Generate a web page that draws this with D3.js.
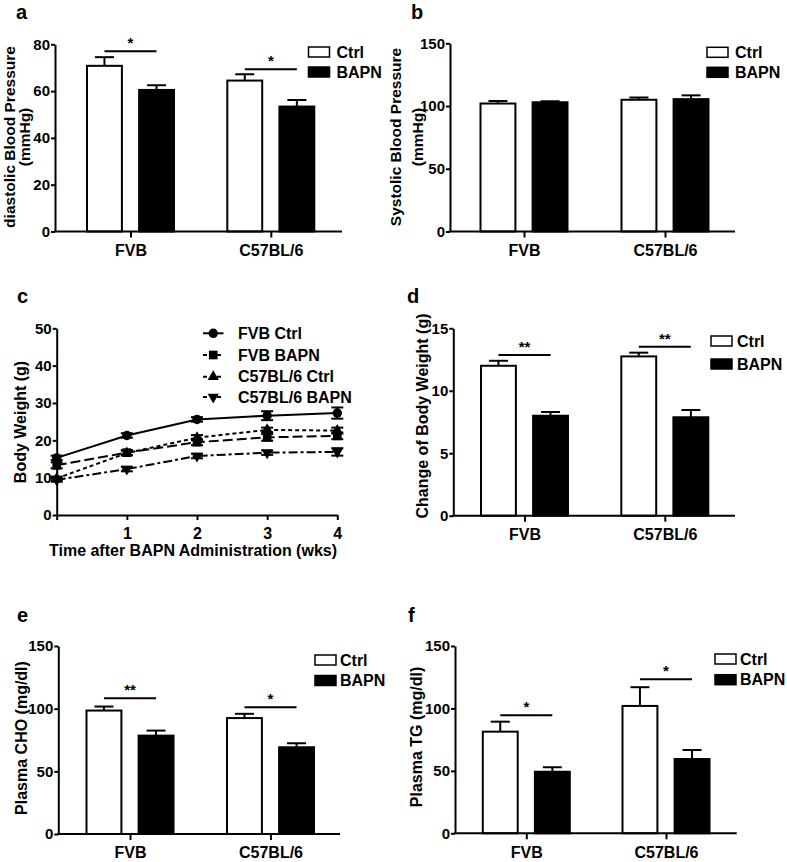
<!DOCTYPE html>
<html><head><meta charset="utf-8">
<script src="https://cdn.jsdelivr.net/npm/d3@7"></script>
<style>
body{margin:0;background:#fff;}
text{font-family:"Liberation Sans",Arial,sans-serif;font-weight:bold;fill:#000;}
</style></head>
<body><svg id="fig" width="787" height="862"></svg>
<script>
// ---------- data ----------
const groups = ["FVB", "C57BL/6"];
const seriesNames = ["Ctrl", "BAPN"];

// a: diastolic blood pressure
const aCtrl = [70.8, 64.5], aCtrlErr = [3.7, 2.7];
const aBapn = [60.5, 53.4], aBapnErr = [2.0, 2.8];
const aSig = ["*", "*"], aSigAt = [77, 69.3];
const aTicks = [0, 20, 40, 60, 80];

// b: systolic blood pressure
const bCtrl = [102, 105], bCtrlErr = [2.0, 1.8];
const bBapn = [103, 105.5], bBapnErr = [0.8, 3.0];
const bTicks = [0, 50, 100, 150];

// c: body weight over time
const weeks = [0, 1, 2, 3, 4];
const cTicks = [0, 10, 20, 30, 40, 50];
const lineNames = ["FVB Ctrl", "FVB BAPN", "C57BL/6 Ctrl", "C57BL/6 BAPN"];
const fvbCtrlW = [15.3, 21.3, 25.6, 26.6, 27.3], fvbCtrlWErr = [0.6, 0.6, 0.6, 1.2, 1.5];
const fvbBapnW = [13.3, 16.7, 19.5, 20.8, 21.2], fvbBapnWErr = [0.8, 0.7, 0.8, 0.9, 0.9];
const c57CtrlW = [9.8, 16.6, 20.7, 22.8, 22.6], c57CtrlWErr = [0.5, 0.6, 0.7, 0.6, 0.8];
const c57BapnW = [9.4, 12.3, 15.8, 16.7, 16.9], c57BapnWErr = [0.5, 0.6, 0.6, 0.6, 1.0];

// d: change of body weight
const dCtrl = [12.0, 12.75], dCtrlErr = [0.4, 0.3];
const dBapn = [8.0, 7.88], dBapnErr = [0.3, 0.58];
const dSig = ["**", "**"], dSigAt = [12.86, 13.53];
const dTicks = [0, 5, 10, 15];

// e: plasma CHO
const eCtrl = [98.5, 92.5], eCtrlErr = [3.2, 3.4];
const eBapn = [78.5, 69.2], eBapnErr = [4.0, 3.2];
const eSig = ["**", "*"], eSigAt = [108.3, 101.1];
const eTicks = [0, 50, 100, 150];

// f: plasma TG
const fCtrl = [81.4, 102], fCtrlErr = [8.0, 15.0];
const fBapn = [49.3, 59.5], fBapnErr = [3.6, 7.2];
const fSig = ["*", "*"], fSigAt = [94.5, 123.3];
const fTicks = [0, 50, 100, 150];

// ---------- drawing ----------
const svg = d3.select("#fig");
svg.append("rect").attr("width", 787).attr("height", 862).attr("fill", "#fff");

function panelLetter(t, x, y) {
  svg.append("text").attr("x", x).attr("y", y).attr("font-size", 20).text(t);
}

function yTitle(lines, xs, cy, fs) {
  lines.forEach((l, i) => {
    svg.append("text")
      .attr("transform", `translate(${xs[i]},${cy}) rotate(-90)`)
      .attr("text-anchor", "middle").attr("dominant-baseline", "central")
      .attr("font-size", fs || 16).text(l);
  });
}

function styleAxis(g) {
  g.selectAll("path,line").attr("stroke", "#000").attr("stroke-width", 2);
  g.selectAll("text").attr("font-size", 15).attr("font-weight", "bold")
    .attr("font-family", '"Liberation Sans",Arial,sans-serif').attr("fill", "#000");
}

function barPanel(cfg) {
  const y = d3.scaleLinear().domain([0, cfg.max]).range([cfg.y0, cfg.yTop]);
  const gx = d3.scalePoint().domain(groups).range(cfg.g);
  const sx = d3.scaleBand().domain(seriesNames).range([-43.5, 43.5]).paddingInner(0.33);
  const means = {Ctrl: cfg.ctrl, BAPN: cfg.bapn};
  const errs = {Ctrl: cfg.ctrlErr, BAPN: cfg.bapnErr};
  const g = svg.append("g");

  seriesNames.forEach(s => {
    groups.forEach((grp, i) => {
      const x = gx(grp) + sx(s);
      const w = sx.bandwidth();
      const cx = x + w / 2;
      const v = means[s][i], e = errs[s][i];
      g.append("line").attr("x1", cx).attr("x2", cx).attr("y1", y(v)).attr("y2", y(v + e))
        .attr("stroke", "#000").attr("stroke-width", 2);
      g.append("line").attr("x1", cx - 9.5).attr("x2", cx + 9.5).attr("y1", y(v + e)).attr("y2", y(v + e))
        .attr("stroke", "#000").attr("stroke-width", 2);
      g.append("rect").attr("x", x).attr("y", y(v)).attr("width", w).attr("height", y(0) - y(v))
        .attr("fill", s === "Ctrl" ? "#fff" : "#000").attr("stroke", "#000").attr("stroke-width", 2);
    });
  });

  if (cfg.sig) {
    groups.forEach((grp, i) => {
      const xa = gx(grp) + sx("Ctrl") + sx.bandwidth() / 2;
      const xb = gx(grp) + sx("BAPN") + sx.bandwidth() / 2;
      const yy = y(cfg.sigAt[i]);
      g.append("line").attr("x1", xa).attr("x2", xb).attr("y1", yy).attr("y2", yy)
        .attr("stroke", "#000").attr("stroke-width", 2);
      g.append("text").attr("x", (xa + xb) / 2).attr("y", yy - 3).attr("text-anchor", "middle")
        .attr("font-size", 15).text(cfg.sig[i]);
    });
  }

  const ya = g.append("g").attr("transform", `translate(${cfg.x0},0)`)
    .call(d3.axisLeft(y).tickValues(cfg.ticks).tickSize(4).tickSizeOuter(0).tickPadding(1));
  styleAxis(ya);
  g.append("line").attr("x1", cfg.x0 - 1).attr("x2", cfg.x1).attr("y1", y(0)).attr("y2", y(0))
    .attr("stroke", "#000").attr("stroke-width", 2);
  const xa = g.append("g").attr("transform", `translate(0,${y(0)})`)
    .call(d3.axisBottom(gx).tickSize(6).tickPadding(7));
  xa.select(".domain").remove();
  styleAxis(xa);
  xa.selectAll("text").attr("font-size", 16);

  seriesNames.forEach((s, i) => {
    const cy = cfg.leg[1] + i * cfg.leg[2];
    g.append("rect").attr("x", cfg.leg[0]).attr("y", cy - 5).attr("width", 21).attr("height", 10)
      .attr("fill", s === "Ctrl" ? "#fff" : "#000").attr("stroke", "#000").attr("stroke-width", 1.5);
    g.append("text").attr("x", cfg.leg[0] + cfg.leg[3]).attr("y", cy).attr("dominant-baseline", "central")
      .attr("font-size", 16).text(s);
  });
}

// panel a
panelLetter("a", 16, 19);
yTitle(["diastolic Blood Pressure", "(mmHg)"], [9, 24], 137, 15.5);
barPanel({x0: 55, x1: 342, y0: 231.5, yTop: 44.3, max: 80, g: [130.5, 270.8], ticks: aTicks,
  ctrl: aCtrl, ctrlErr: aCtrlErr, bapn: aBapn, bapnErr: aBapnErr, sig: aSig, sigAt: aSigAt, leg: [308.5, 52, 20, 28]});

// panel b
panelLetter("b", 411, 19);
yTitle(["Systolic Blood Pressure", "(mmHg)"], [395, 417], 137, 15.5);
barPanel({x0: 450, x1: 735, y0: 231.5, yTop: 43.3, max: 150, g: [524, 665], ticks: bTicks,
  ctrl: bCtrl, ctrlErr: bCtrlErr, bapn: bBapn, bapnErr: bBapnErr, sig: null, leg: [707, 52.3, 20, 28]});

// panel d
panelLetter("d", 407, 303);
yTitle(["Change of Body Weight (g)"], [422.5], 416);
barPanel({x0: 453.3, x1: 735, y0: 515.7, yTop: 328.3, max: 15, g: [524.5, 664.8], ticks: dTicks,
  ctrl: dCtrl, ctrlErr: dCtrlErr, bapn: dBapn, bapnErr: dBapnErr, sig: dSig, sigAt: dSigAt, leg: [711, 341, 23, 26]});

// panel e
panelLetter("e", 17, 622);
yTitle(["Plasma CHO (mg/dl)"], [21], 738);
barPanel({x0: 58.3, x1: 340, y0: 834, yTop: 646, max: 150, g: [130, 270.5], ticks: eTicks,
  ctrl: eCtrl, ctrlErr: eCtrlErr, bapn: eBapn, bapnErr: eBapnErr, sig: eSig, sigAt: eSigAt, leg: [315, 660, 20.5, 25]});

// panel f
panelLetter("f", 408, 622);
yTitle(["Plasma TG (mg/dl)"], [416], 737);
barPanel({x0: 455, x1: 736.7, y0: 833.3, yTop: 646, max: 150, g: [526.3, 666], ticks: fTicks,
  ctrl: fCtrl, ctrlErr: fCtrlErr, bapn: fBapn, bapnErr: fBapnErr, sig: fSig, sigAt: fSigAt, leg: [715, 659, 20.7, 25]});

// panel c (line chart)
panelLetter("c", 17, 303);
yTitle(["Body Weight (g)"], [20], 422);
(function () {
  const x = d3.scaleLinear().domain([0, 4]).range([56.7, 337.3]);
  const y = d3.scaleLinear().domain([0, 50]).range([515, 328.3]);
  const g = svg.append("g");
  const data = [fvbCtrlW, fvbBapnW, c57CtrlW, c57BapnW];
  const errs = [fvbCtrlWErr, fvbBapnWErr, c57CtrlWErr, c57BapnWErr];
  const dashes = [null, "10,4", "4,3", "9,3,3,3"];
  const syms = [d3.symbolCircle, d3.symbolSquare, d3.symbolTriangle, d3.symbolTriangle];
  const sizes = [70, 75, 55, 55];
  const rot = [0, 0, 0, 180];
  const line = d3.line().x((d, i) => x(weeks[i])).y(d => y(d));

  data.forEach((vals, k) => {
    g.append("path").attr("d", line(vals)).attr("fill", "none").attr("stroke", "#000")
      .attr("stroke-width", 2).attr("stroke-dasharray", dashes[k]);
    vals.forEach((v, i) => {
      const e = errs[k][i];
      const cx = x(weeks[i]);
      g.append("line").attr("x1", cx).attr("x2", cx).attr("y1", y(v - e)).attr("y2", y(v + e))
        .attr("stroke", "#000").attr("stroke-width", 2);
      [v - e, v + e].forEach(t => g.append("line").attr("x1", cx - 6).attr("x2", cx + 6)
        .attr("y1", y(t)).attr("y2", y(t)).attr("stroke", "#000").attr("stroke-width", 2));
      g.append("path").attr("d", d3.symbol().type(syms[k]).size(sizes[k])())
        .attr("transform", `translate(${cx},${y(v)}) rotate(${rot[k]})`).attr("fill", "#000");
    });
  });

  const ya = g.append("g").attr("transform", "translate(56.7,0)")
    .call(d3.axisLeft(y).tickValues(cTicks).tickSize(4).tickSizeOuter(0).tickPadding(1));
  styleAxis(ya);
  const xa = g.append("g").attr("transform", `translate(0,${y(0)})`)
    .call(d3.axisBottom(x).tickValues(weeks).tickSize(5).tickSizeOuter(0).tickPadding(8)
      .tickFormat(d => d === 0 ? "" : d));
  styleAxis(xa);
  xa.selectAll("text").attr("font-size", 16);
  g.append("text").attr("x", 193).attr("y", 556).attr("text-anchor", "middle").attr("font-size", 16)
    .text("Time after BAPN Administration (wks)");

  const lx0 = 203, lx1 = 223.5, rows = [333.3, 355, 376.7, 397];
  lineNames.forEach((n, k) => {
    g.append("line").attr("x1", lx0).attr("x2", lx1).attr("y1", rows[k]).attr("y2", rows[k])
      .attr("stroke", "#000").attr("stroke-width", 2).attr("stroke-dasharray", dashes[k] ? "4,3" : null);
    g.append("path").attr("d", d3.symbol().type(syms[k]).size(sizes[k])())
      .attr("transform", `translate(${(lx0 + lx1) / 2},${rows[k]}) rotate(${rot[k]})`).attr("fill", "#000");
    g.append("text").attr("x", 238).attr("y", rows[k]).attr("dominant-baseline", "central")
      .attr("font-size", 16).text(n);
  });
})();
</script></body></html>
